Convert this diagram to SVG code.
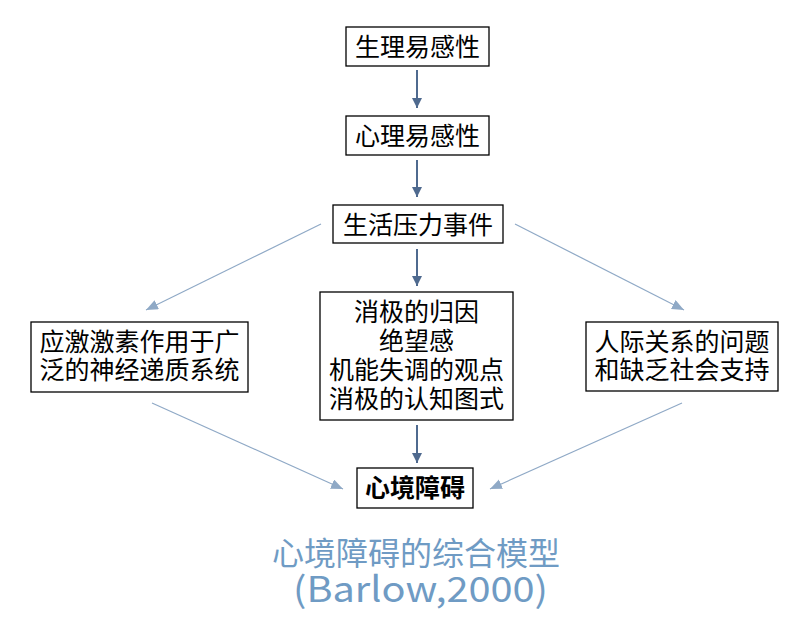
<svg xmlns="http://www.w3.org/2000/svg" width="809" height="628" viewBox="0 0 809 628">
<style>
.box{fill:#fff;stroke:#000;stroke-width:1.3}
.t{font-family:"Noto Sans CJK SC","Noto Sans",sans-serif;font-size:25px;fill:#000;text-anchor:middle}
.b{font-weight:bold}
.v{stroke:#4f6a8f;stroke-width:2;fill:none}
.d{stroke:#8fa9c6;stroke-width:1.2;fill:none}
.title{font-family:"Noto Sans CJK SC","Noto Sans",sans-serif;fill:#6f9bc4;text-anchor:middle}
</style>
<defs>
<marker id="av" markerUnits="userSpaceOnUse" markerWidth="12" markerHeight="12" refX="10" refY="5" orient="auto">
<path d="M0,0 L10,5 L0,10 z" fill="#4f6a8f"/>
</marker>
<marker id="ad" markerUnits="userSpaceOnUse" markerWidth="14" markerHeight="12" refX="12" refY="5" orient="auto">
<path d="M0,0 L12,5 L0,10 z" fill="#8fa9c6"/>
</marker>
</defs>
<rect width="809" height="628" fill="#fff"/>
<g id="connectors">
<line class="v" x1="417" y1="70" x2="417" y2="108" marker-end="url(#av)"/>
<line class="v" x1="417" y1="160" x2="417" y2="197" marker-end="url(#av)"/>
<line class="v" x1="417" y1="249" x2="417" y2="286" marker-end="url(#av)"/>
<line class="v" x1="417" y1="425" x2="417" y2="463" marker-end="url(#av)"/>
<line class="d" x1="321" y1="224" x2="146" y2="310" marker-end="url(#ad)"/>
<line class="d" x1="515" y1="224" x2="684" y2="310" marker-end="url(#ad)"/>
<line class="d" x1="152" y1="403" x2="343" y2="489" marker-end="url(#ad)"/>
<line class="d" x1="682" y1="403" x2="490" y2="489" marker-end="url(#ad)"/>
</g>
<g id="n1"><rect class="box" x="346" y="27" width="143" height="39"/><text class="t" x="417.5" y="55.5">生理易感性</text></g>
<g id="n2"><rect class="box" x="346" y="116" width="143" height="39"/><text class="t" x="417.5" y="144.5">心理易感性</text></g>
<g id="n3"><rect class="box" x="333" y="205" width="170" height="38"/><text class="t" x="418" y="233.5">生活压力事件</text></g>
<g id="n4"><rect class="box" x="320" y="292" width="193" height="128"/>
<text class="t" x="416.5" y="321">消极的归因</text>
<text class="t" x="416.5" y="350">绝望感</text>
<text class="t" x="416.5" y="379">机能失调的观点</text>
<text class="t" x="416.5" y="408">消极的认知图式</text></g>
<g id="n5"><rect class="box" x="31" y="322" width="217" height="70"/>
<text class="t" x="139.5" y="351">应激激素作用于广</text>
<text class="t" x="139.5" y="379">泛的神经递质系统</text></g>
<g id="n6"><rect class="box" x="586" y="322" width="192" height="69"/>
<text class="t" x="682" y="351">人际关系的问题</text>
<text class="t" x="682" y="379">和缺乏社会支持</text></g>
<g id="n7"><rect class="box" x="357" y="468" width="116" height="40"/><text class="t b" x="415" y="497">心境障碍</text></g>
<text class="title" x="416" y="565" font-size="32">心境障碍的综合模型</text>
<text class="title" x="420.5" y="602" font-size="35" textLength="255" lengthAdjust="spacingAndGlyphs">(Barlow,2000)</text>
</svg>
